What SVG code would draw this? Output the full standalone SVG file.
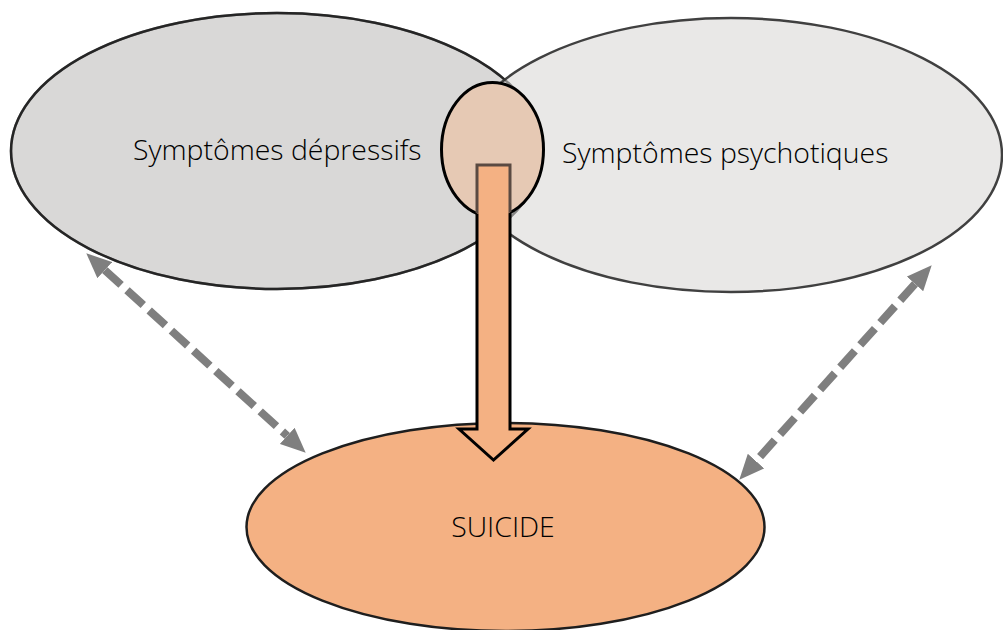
<svg xmlns="http://www.w3.org/2000/svg" width="1003" height="630" viewBox="0 0 1003 630">
<style>
.lbl{font-family:"Open Sans","Liberation Sans",sans-serif;font-weight:300;font-size:28.4px;fill:#000}
.dash{stroke:#7f7f7f;stroke-width:8;stroke-dasharray:22 8;fill:none;marker-start:url(#head);marker-end:url(#head)}
</style>
<defs>
<marker id="head" viewBox="0 -11 25 22" refX="0" refY="0" markerWidth="25" markerHeight="22" markerUnits="userSpaceOnUse" orient="auto-start-reverse">
<path d="M0,-11 L25,0 L0,11 z" fill="#7f7f7f"/>
</marker>
<mask id="outC" maskUnits="userSpaceOnUse" x="0" y="0" width="1003" height="630">
<rect x="0" y="0" width="1003" height="630" fill="#fff"/>
<ellipse cx="492.5" cy="149.5" rx="51" ry="67" fill="#000"/>
</mask>
<clipPath id="inC"><ellipse cx="492.5" cy="149.5" rx="51" ry="67"/></clipPath>
</defs>
<rect width="1003" height="630" fill="#fff"/>
<g id="depressifs">
<ellipse cx="277" cy="151" rx="266" ry="138" fill="#D9D8D7" stroke="#262626" stroke-width="2.5"/>
<text class="lbl" x="133" y="160">Symptômes dépressifs</text>
</g>
<g id="psychotiques">
<ellipse cx="731" cy="155" rx="271" ry="137" fill="#E7E6E5" fill-opacity="0.92" stroke="#404040" stroke-width="2.5"/>
<ellipse cx="277" cy="151" rx="266" ry="138" fill="none" stroke="#262626" stroke-opacity="0.45" stroke-width="2.5"/>
<text class="lbl" x="562" y="163">Symptômes psychotiques</text>
</g>
<g id="overlap">
<ellipse cx="492.5" cy="149.5" rx="51" ry="67" fill="#E6C9B4" stroke="#000" stroke-width="3"/>
</g>
<g id="suicide">
<ellipse cx="505.5" cy="527" rx="259" ry="104" fill="#F4B183" stroke="#1e1e1e" stroke-width="2.5"/>
<text class="lbl" x="503" y="537" text-anchor="middle">SUICIDE</text>
</g>
<g id="connectors">
<g id="main-arrow">
<polygon points="477,165 510,165 510,429 528,429 493.5,460 459,429 477,429" fill="#F4B183"/>
<polygon points="477,165 510,165 510,429 528,429 493.5,460 459,429 477,429" fill="none" stroke="#000" stroke-width="3" mask="url(#outC)"/>
<polygon points="477,165 510,165 510,429 528,429 493.5,460 459,429 477,429" fill="none" stroke="#5a4a42" stroke-width="3" clip-path="url(#inC)"/>
</g>
<line class="dash" x1="104.8" y1="270.1" x2="287.2" y2="435.9"/>
<line class="dash" x1="915" y1="283.9" x2="756" y2="461.1"/>
</g>
</svg>
